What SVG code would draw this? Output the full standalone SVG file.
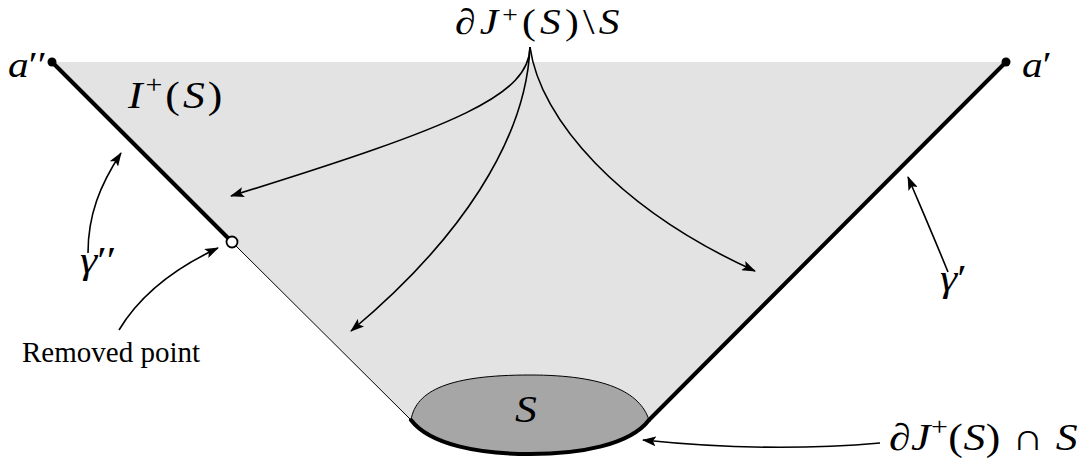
<svg xmlns="http://www.w3.org/2000/svg" width="1084" height="466" viewBox="0 0 1084 466">
<defs>
<marker id="ah" viewBox="0 0 14 10" refX="13" refY="5" markerWidth="14" markerHeight="10" markerUnits="userSpaceOnUse" orient="auto">
<path d="M0,0 L14,5 L0,10 L3,5 Z" fill="#000"/>
</marker>
<style>
.m{font-family:"Liberation Serif","DejaVu Serif",serif;font-style:italic;fill:#000}
.r{font-style:normal}
.rm{font-family:"Liberation Serif","DejaVu Serif",serif;fill:#000}
.arr{fill:none;stroke:#000;stroke-width:1.6;marker-end:url(#ah)}
.thick{fill:none;stroke:#000;stroke-width:4;stroke-linecap:round}
</style>
</defs>
<g id="region">
<path d="M52,62 L1006,62 L649,420 C630,445 580,454 530,454 C480,454 430,445 411,420 Z" fill="#e3e3e3"/>
</g>
<g id="S">
<path d="M411,420 C416,390 450,375 530,375 C605,375 640,392 649,420 C630,445 580,454 530,454 C480,454 430,445 411,420 Z" fill="#a6a6a6" stroke="#000" stroke-width="1"/>
<path d="M411,420 C430,445 480,454 530,454 C580,454 630,445 649,420" class="thick"/>
<text class="m" transform="translate(515,422) scale(1.15,1)" font-size="38">S</text>
</g>
<g id="edges">
<line x1="232" y1="242" x2="411" y2="420" stroke="#000" stroke-width="1"/>
<line x1="52" y1="62" x2="232" y2="242" class="thick"/>
<line x1="1006" y1="62" x2="649" y2="420" class="thick"/>
</g>
<g id="a2">
<circle cx="52" cy="62" r="4.5" fill="#000"/>
<text class="m" transform="translate(8,77) scale(1.15,1)" font-size="36">a<tspan class="r">′′</tspan></text>
</g>
<g id="a1">
<circle cx="1006" cy="62" r="4.5" fill="#000"/>
<text class="m" transform="translate(1022,77) scale(1.15,1)" font-size="36">a<tspan class="r">′</tspan></text>
</g>
<g id="removed">
<circle cx="232" cy="242" r="5.5" fill="#fff" stroke="#000" stroke-width="1.8"/>
<text class="rm" x="22" y="362" font-size="29">Removed point</text>
</g>
<g id="I">
<text class="m" transform="translate(128,108) scale(1.15,1)" font-size="38" textLength="82" lengthAdjust="spacing">I<tspan class="r" font-size="26" dy="-15">+</tspan><tspan class="r" dy="15">(</tspan>S<tspan class="r">)</tspan></text>
</g>
<g id="top">
<text class="m" transform="translate(455,34) scale(1.15,1)" font-size="36" textLength="143" lengthAdjust="spacing">∂J<tspan class="r" font-size="24" dy="-12">+</tspan><tspan class="r" dy="12">(</tspan>S<tspan class="r">)\</tspan>S</text>
</g>
<g id="bottom">
<text class="m" transform="translate(889,450) scale(1.15,1)" font-size="38" textLength="164" lengthAdjust="spacing">∂J<tspan class="r" font-size="26" dy="-15">+</tspan><tspan class="r" dy="15">(</tspan>S<tspan class="r">) ∩ </tspan>S</text>
</g>
<g id="gammas">
<text class="m" transform="translate(80,273) scale(1.15,1)" font-size="38">γ<tspan class="r">′′</tspan></text>
<text class="m" transform="translate(940,291) scale(1.15,1)" font-size="38">γ<tspan class="r">′</tspan></text>
</g>
<g id="connectors">
<path class="arr" d="M530,47 C529,95 460,125 231,196"/>
<path class="arr" d="M530,47 C526,140 460,240 351,331"/>
<path class="arr" d="M530,47 C540,120 620,210 755,271"/>
<path class="arr" d="M88,253 C88,215 100,185 121,153"/>
<path class="arr" d="M119,330 C140,295 175,268 218,248"/>
<path class="arr" d="M948,272 C935,240 922,210 908,177"/>
<path class="arr" d="M880,443 C800,450 720,448 643,440"/>
</g>
</svg>
